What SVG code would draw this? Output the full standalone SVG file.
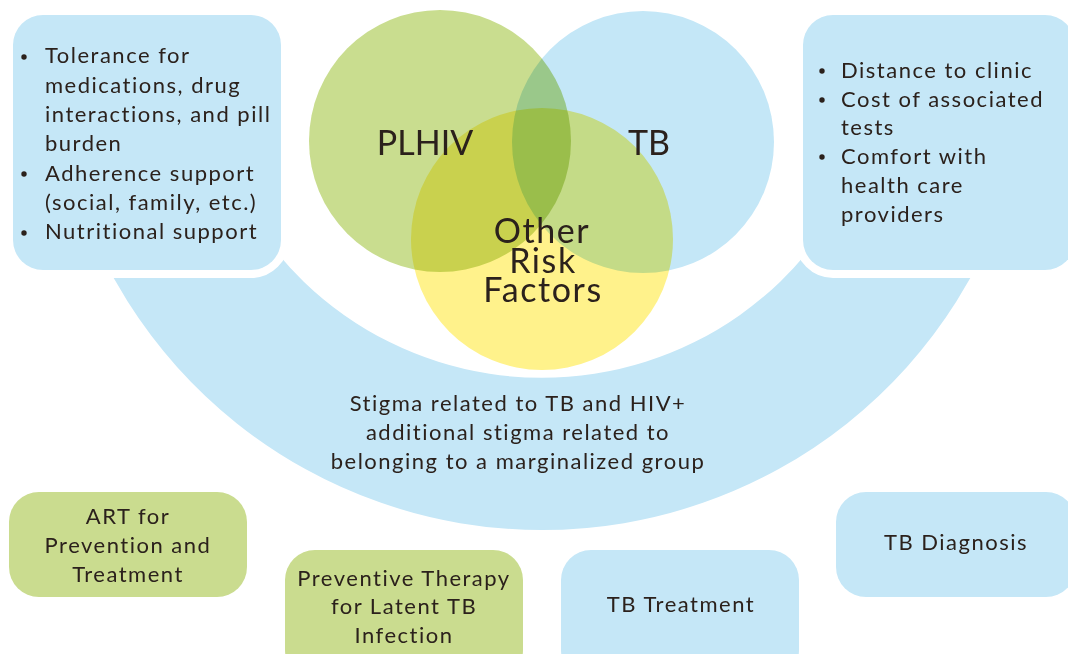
<svg xmlns="http://www.w3.org/2000/svg" width="1068" height="654" viewBox="0 0 1068 654">
<style>
.t{font-family:Lato,"Liberation Sans",sans-serif;fill:#2b211c;font-size:22px;letter-spacing:1.5px}
.c{text-anchor:middle}
.big{font-size:34px;letter-spacing:1.6px}
.cap{letter-spacing:0px}
.blue{fill:#c5e7f7}
.green{fill:#cadc8f}
.box{stroke:#ffffff;stroke-width:16;paint-order:stroke}
.v{mix-blend-mode:multiply}
.dot{fill:#2b211c}
</style>
<rect width="1068" height="654" fill="#ffffff"/>
<g id="band">
<path class="blue" d="M 64.5 150 A 490 490 0 0 0 1019.5 150 L 865.1 150 A 343 343 0 0 1 218.9 150 Z"/>
<text class="t c" x="518" y="411">Stigma related to TB and HIV+</text>
<text class="t c" x="518" y="440">additional stigma related to</text>
<text class="t c" x="518" y="469">belonging to a marginalized group</text>
</g>
<g id="box-left">
<rect class="blue box" x="13" y="15" width="268" height="255" rx="30"/>
<circle class="dot" cx="24" cy="57" r="2.7"/>
<circle class="dot" cx="24" cy="174" r="2.7"/>
<circle class="dot" cx="24" cy="233" r="2.7"/>
<text class="t" x="45" y="63.3">Tolerance for</text>
<text class="t" x="45" y="92.6">medications, drug</text>
<text class="t" x="45" y="121.9">interactions, and pill</text>
<text class="t" x="45" y="151.2">burden</text>
<text class="t" x="45" y="180.5">Adherence support</text>
<text class="t" x="45" y="209.8">(social, family, etc.)</text>
<text class="t" x="45" y="239.1">Nutritional support</text>
</g>
<g id="box-right">
<rect class="blue box" x="803" y="15" width="272" height="255" rx="30"/>
<circle class="dot" cx="822" cy="71" r="2.7"/>
<circle class="dot" cx="822" cy="100" r="2.7"/>
<circle class="dot" cx="822" cy="157" r="2.7"/>
<text class="t" x="841" y="77.5">Distance to clinic</text>
<text class="t" x="841" y="106.5">Cost of associated</text>
<text class="t" x="841" y="135">tests</text>
<text class="t" x="841" y="163.5">Comfort with</text>
<text class="t" x="841" y="192.5">health care</text>
<text class="t" x="841" y="221.5">providers</text>
</g>
<g id="venn">
<g id="plhiv"><circle class="v" cx="440" cy="141" r="131" fill="#c9dd8f"/></g>
<g id="tb"><circle class="v" cx="643" cy="142" r="131" fill="#c4e7f7"/></g>
<g id="other"><circle class="v" cx="542" cy="239" r="131" fill="#fff28b"/></g>
<text class="t big cap c" x="425" y="155">PLHIV</text>
<text class="t big cap c" x="649" y="155">TB</text>
<text class="t big c" x="542" y="243">Other</text>
<text class="t big c" x="543" y="273">Risk</text>
<text class="t big c" x="543" y="302">Factors</text>
</g>
<g id="art">
<rect class="green" x="9" y="492" width="238" height="105" rx="30"/>
<text class="t c" x="128" y="524">ART for</text>
<text class="t c" x="128" y="553">Prevention and</text>
<text class="t c" x="128" y="582">Treatment</text>
</g>
<g id="preventive">
<rect class="green" x="285" y="550" width="238" height="130" rx="30"/>
<text class="t c" x="404" y="586">Preventive Therapy</text>
<text class="t c" x="404" y="614">for Latent TB</text>
<text class="t c" x="404" y="643">Infection</text>
</g>
<g id="tb-treatment">
<rect class="blue" x="561" y="550" width="238" height="130" rx="30"/>
<text class="t c" x="681" y="612">TB Treatment</text>
</g>
<g id="tb-diagnosis">
<rect class="blue" x="836" y="492" width="240" height="105" rx="30"/>
<text class="t c" x="956" y="550">TB Diagnosis</text>
</g>
<g id="connectors"/>
</svg>
